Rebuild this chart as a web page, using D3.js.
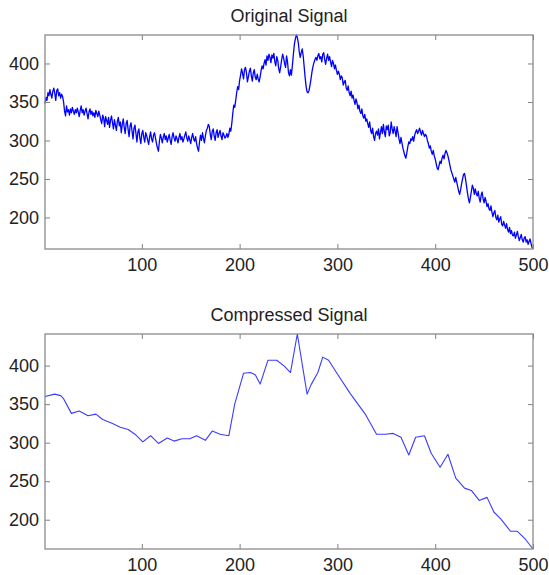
<!DOCTYPE html>
<html>
<head>
<meta charset="utf-8">
<script src="https://cdn.jsdelivr.net/npm/d3@7"></script>
<style>
body { margin: 0; background: #fff; }
text { font-family: "Liberation Sans", Arial, sans-serif; }
</style>
</head>
<body>
<svg id="chart" width="549" height="575"></svg>
<script>
// original signal, one value per sample (1..500)
var originalSignal = [
	348, 356, 352, 362, 358, 366, 360, 355, 364, 368,
	361, 352, 365, 367, 358, 362, 355, 360, 357, 350,
	338, 332, 345, 337, 340, 333, 341, 336, 343, 338,
	334, 340, 336, 342, 337, 331, 339, 345, 336, 340,
	333, 338, 342, 335, 328, 337, 341, 334, 338, 332,
	336, 330, 339, 335, 331, 338, 333, 327, 322, 333,
	329, 318, 331, 326, 321, 330, 317, 326, 332, 323,
	315, 327, 320, 313, 325, 330, 319, 324, 310, 321,
	328, 317, 309, 322, 326, 314, 305, 319, 323, 312,
	302, 316, 320, 309, 298, 311, 315, 303, 296, 309,
	313, 304, 298, 310, 306, 300, 295, 305, 311, 302,
	298, 307, 310, 303, 296, 290, 286, 299, 308, 303,
	297, 305, 309, 301, 306, 298, 303, 308, 300, 295,
	305, 310, 303, 299, 306, 302, 297, 304, 309, 301,
	305, 298, 302, 307, 311, 303, 299, 306, 301, 296,
	304, 309, 302, 299, 305, 296, 290, 286, 298, 307,
	300, 310, 303, 297, 306, 313, 316, 321, 318, 308,
	301, 312, 315, 306, 300, 310, 314, 304, 309, 313,
	306, 301, 310, 307, 303, 305, 309, 304, 308, 316,
	312, 322, 335, 346, 343, 352, 362, 370, 366, 378,
	385, 393, 387, 380, 392, 395, 388, 376, 383, 390,
	394, 384, 377, 388, 392, 382, 379, 386, 380, 376,
	383, 391, 397, 393, 400, 405, 398, 410, 404, 412,
	408, 401, 411, 407, 413, 402, 397, 409, 404, 393,
	388, 396, 405, 412, 407, 400, 395, 410, 402, 388,
	384, 392, 385, 398, 412, 425, 432, 437, 434, 427,
	415, 408, 414, 419, 410, 396, 382, 370, 363, 362,
	365, 372, 380, 389, 396, 401, 405, 408, 404, 410,
	413, 406, 409, 402, 412, 414, 405, 399, 407, 412,
	404, 409, 402, 396, 404, 400, 393, 398, 391, 386,
	390, 386, 379, 384, 381, 372, 376, 378, 368, 365,
	371, 362, 358, 364, 355, 359, 352, 347, 354, 349,
	341, 346, 338, 335, 341, 332, 329, 334, 325, 328,
	322, 317, 324, 313, 309, 316, 305, 300, 309, 312,
	307, 315, 302, 310, 318, 309, 321, 311, 305, 319,
	314, 320, 306, 310, 324, 315, 309, 318, 312, 305,
	318, 310, 302, 296, 304, 297, 290, 285, 280, 277,
	284, 292, 298, 296, 302, 300, 305, 299, 307, 311,
	314, 309, 312, 316, 311, 307, 313, 309, 305, 308,
	306, 300, 296, 290, 293, 286, 282, 287, 280, 276,
	270, 264, 262, 268, 273, 270, 277, 281, 276, 283,
	287, 284, 280, 274, 268, 262, 258, 254, 250, 246,
	252, 246, 240, 234, 230, 236, 244, 250, 256, 257,
	250, 241, 232, 224, 219, 226, 234, 242, 238, 230,
	237, 231, 228, 234, 225, 220, 229, 233, 224, 219,
	226, 221, 214, 218, 211, 209, 215, 207, 201, 206,
	209, 200, 197, 203, 194, 198, 201, 191, 189, 195,
	190, 186, 192, 184, 181, 187, 179, 183, 177, 176,
	181, 173, 177, 182, 175, 170, 174, 178, 171, 168,
	173, 175, 168, 171, 165, 169, 172, 166, 161, 159
];
// compressed signal, read at its corners
var compressedX = [1, 11, 17, 20, 28, 36, 45, 53, 60, 70, 78, 86, 93, 101, 109, 117, 126, 133, 141, 149,
	156, 165, 172, 180, 189, 195, 204, 211, 216, 221, 229, 238, 246, 252, 259, 269, 273, 280, 285, 291,
	300, 313, 329, 340, 349, 357, 365, 373, 380, 389, 396, 405, 413, 421, 430, 437, 445, 453, 460, 467,
	477, 484, 492, 500];
var compressedY = [360, 363, 361, 357, 338, 341, 335, 337, 330, 325, 320, 317, 311, 301, 309, 299, 306, 302, 305, 305,
	309, 303, 315, 311, 309, 350, 390, 391, 388, 376, 407, 407, 399, 391, 441, 363, 375, 391, 411, 407,
	389, 364, 336, 311, 311, 312, 307, 284, 307, 309, 286, 268, 285, 254, 241, 238, 225, 229, 210, 201,
	185, 185, 175, 162];
var titles = ["Original Signal", "Compressed Signal"];
var xTicks = [100, 200, 300, 400, 500];
var yTicks = [200, 250, 300, 350, 400];

var svg = d3.select('#chart');
svg.append('rect').attr('width', 549).attr('height', 575).attr('fill', '#fff');

var left = 45, right = 533;

function drawPanel(top, bottom, title, xs, ys, lineColor, lineWidth){
	var pts = xs.map(function(x, i){ return [x, ys[i]]; });
	var x = d3.scaleLinear().domain([1, 500]).range([left, right]);
	var y = d3.scaleLinear().domain(d3.extent(ys)).range([bottom, top]);
	var g = svg.append('g');

	g.append('path')
		.datum(pts)
		.attr('d', d3.line().x(function(d){ return x(d[0]); }).y(function(d){ return y(d[1]); }))
		.attr('fill', 'none')
		.attr('stroke', lineColor)
		.attr('stroke-width', lineWidth)
		.attr('stroke-linejoin', 'round');

	var axes = [
		{ax: d3.axisBottom(x).tickValues(xTicks), tr: 'translate(0,' + bottom + ')', lab: true, pad: 9},
		{ax: d3.axisTop(x).tickValues(xTicks), tr: 'translate(0,' + top + ')', lab: false, pad: 0},
		{ax: d3.axisLeft(y).tickValues(yTicks), tr: 'translate(' + left + ',0)', lab: true, pad: 6},
		{ax: d3.axisRight(y).tickValues(yTicks), tr: 'translate(' + right + ',0)', lab: false, pad: 0}
	];
	axes.forEach(function(a){
		var ag = g.append('g')
			.attr('transform', a.tr)
			.call(a.ax.tickSizeInner(-5).tickSizeOuter(0).tickPadding(a.pad));
		ag.select('.domain').remove();
		ag.selectAll('line').attr('stroke', '#808080');
		ag.selectAll('text')
			.attr('font-size', '18px')
			.attr('fill', '#222')
			.style('font-family', '"Liberation Sans", Arial, sans-serif');
		if(!a.lab) ag.selectAll('text').remove();
	});

	g.append('rect')
		.attr('x', left)
		.attr('y', top)
		.attr('width', right - left)
		.attr('height', bottom - top)
		.attr('fill', 'none')
		.attr('stroke', '#8a8a8a')
		.attr('stroke-width', 1.3);

	g.append('text')
		.attr('x', (left + right) / 2)
		.attr('y', top - 13)
		.attr('text-anchor', 'middle')
		.attr('font-size', '18px')
		.attr('fill', '#222')
		.text(title);
}

drawPanel(35, 249, titles[0], d3.range(1, originalSignal.length + 1), originalSignal, '#0000ff', 1.3);
drawPanel(334, 549, titles[1], compressedX, compressedY, '#3b3bff', 1.1);
</script>
</body>
</html>
